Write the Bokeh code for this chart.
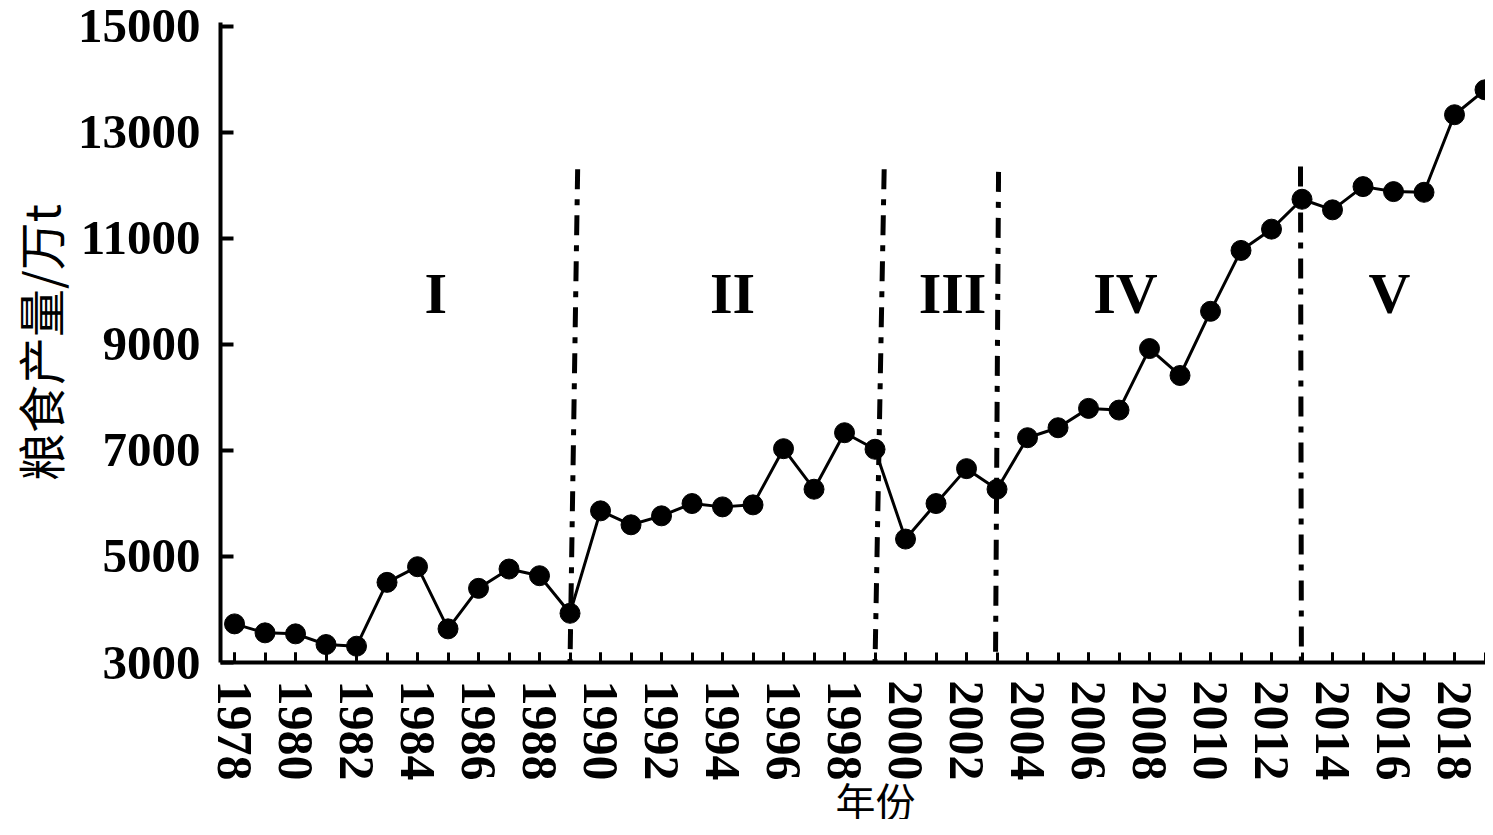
from bokeh.plotting import figure
from bokeh.models import Range1d, SingleIntervalTicker, FixedTicker, ColumnDataSource, Title
from bokeh.core.properties import value
from bokeh.embed import file_html
from bokeh.resources import INLINE

# ---- data ----
years = list(range(1978, 2020))
grain = [3728, 3559, 3540, 3339, 3307, 4511, 4806, 3634, 4398, 4762, 4636, 3928,
         5859, 5596, 5765, 5997, 5934, 5972, 7031, 6267, 7332, 7020,
         5327, 5997, 6655, 6267, 7238, 7426, 7791, 7759, 8919, 8411, 9621,
         10769, 11170, 11734, 11534, 11972, 11878, 11865, 13327, 13797]

y_ticks = [3000, 5000, 7000, 9000, 11000, 13000, 15000]

# stage boundaries (top and bottom x of each dash-dot line)
bound_x_top = [1989.25, 1999.3, 2003.05, 2012.95]
bound_x_bottom = [1989.0, 1999.0, 2002.95, 2012.98]
bound_y_top = [12300, 12300, 12250, 12350]
bound_y_bottom = [3000, 3000, 3000, 3000]

stage_labels = ["I", "II", "III", "IV", "V"]
stage_x = [1984.6, 1994.33, 2001.54, 2007.21, 2015.87]
stage_y = [9950, 9950, 9950, 9950, 9950]

x_title = "年份"
y_title = "粮食产量/万t"

# ---- figure ----
p = figure(width=1485, height=819, output_backend="svg", toolbar_location=None,
           x_range=Range1d(1977.54, 2019.016), y_range=Range1d(3000, 15066),
           min_border_left=220, min_border_right=0, min_border_top=22,
           min_border_bottom=157)
p.outline_line_color = None
p.xgrid.visible = False
p.ygrid.visible = False
p.background_fill_color = "white"
p.border_fill_color = "white"

src = ColumnDataSource(dict(x=years, y=grain))
p.line("x", "y", source=src, line_color="black", line_width=3)
p.scatter("x", "y", source=src, size=20, fill_color="black", line_color="black")

bsrc = ColumnDataSource(dict(x0=bound_x_top, y0=bound_y_top,
                             x1=bound_x_bottom, y1=bound_y_bottom))
p.segment("x0", "y0", "x1", "y1", source=bsrc, line_color="black", line_width=5,
          line_dash="20 10 6 10")

ssrc = ColumnDataSource(dict(x=stage_x, y=stage_y, t=stage_labels))
p.text("x", "y", text="t", source=ssrc, text_font=value("Liberation Serif"),
       text_font_style="bold", text_font_size="58px", text_align="center",
       text_baseline="middle", text_color="black")

# x axis
xa = p.xaxis[0]
xa.ticker = SingleIntervalTicker(interval=2, num_minor_ticks=2)
xa.major_label_orientation = "vertical"
xa.major_label_text_font = "Liberation Serif"
xa.major_label_text_font_style = "bold"
xa.major_label_text_font_size = "50px"
xa.major_label_text_color = "black"
xa.major_label_standoff = 18
xa.axis_line_width = 4
xa.axis_line_color = "black"
xa.major_tick_in = 10
xa.major_tick_out = 0
xa.minor_tick_in = 10
xa.minor_tick_out = 0
xa.major_tick_line_width = 3
xa.minor_tick_line_width = 3
xa.major_tick_line_color = "black"
xa.minor_tick_line_color = "black"

# x title in the below panel (compact standoff so the frame keeps its size)
p.add_layout(Title(text=x_title, align="left", vertical_align="middle",
                   offset=615, standoff=-27, text_font="Noto Sans CJK SC",
                   text_font_style="normal", text_font_size="40px",
                   text_color="black"), "below")

# y axis
ya = p.yaxis[0]
ya.ticker = FixedTicker(ticks=y_ticks)
ya.major_label_text_font = "Liberation Serif"
ya.major_label_text_font_style = "bold"
ya.major_label_text_font_size = "49px"
ya.major_label_text_color = "black"
ya.major_label_standoff = 20
ya.axis_line_width = 4
ya.axis_line_color = "black"
ya.major_tick_in = 13
ya.major_tick_out = 0
ya.major_tick_line_width = 4
ya.major_tick_line_color = "black"
ya.minor_tick_line_color = None
ya.axis_label = y_title
ya.axis_label_text_font = "Noto Sans CJK SC"
ya.axis_label_text_font_style = "normal"
ya.axis_label_text_font_size = "48px"
ya.axis_label_text_color = "black"
ya.axis_label_standoff = 1

open("out.html", "w").write(file_html(p, INLINE))
